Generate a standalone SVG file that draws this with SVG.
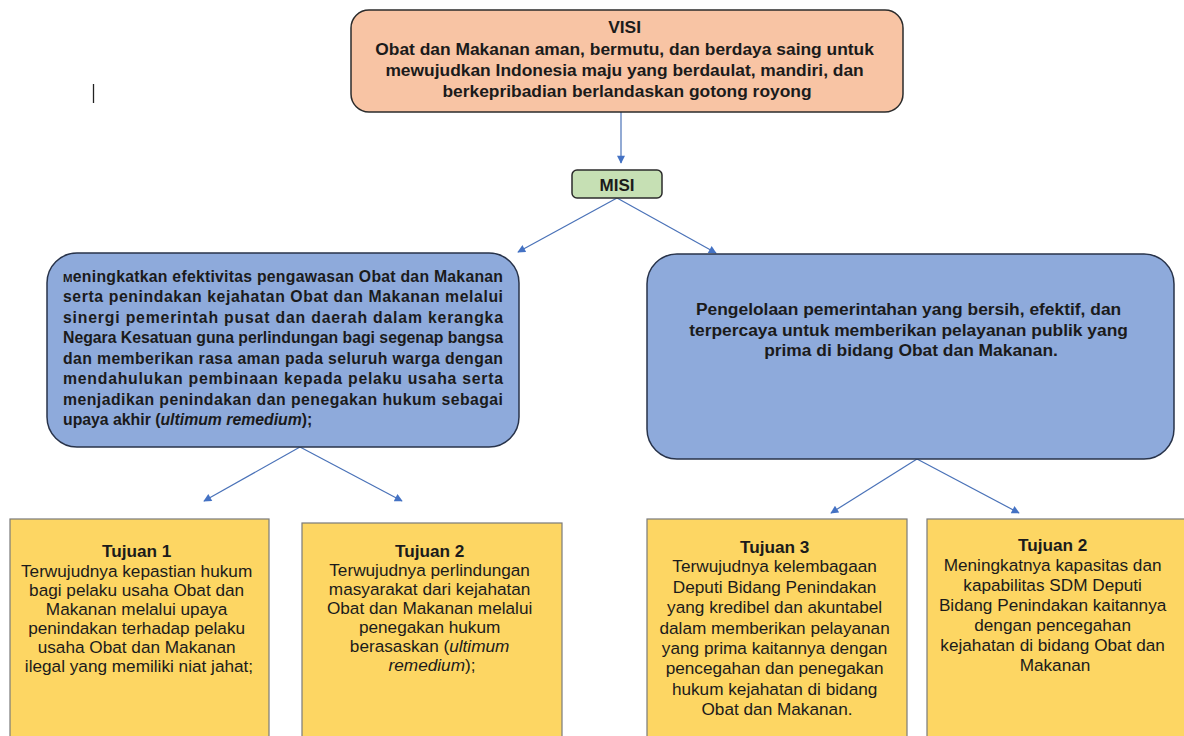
<svg xmlns="http://www.w3.org/2000/svg" width="1184" height="736" viewBox="0 0 1184 736">
<defs>
<marker id="ah" viewBox="0 0 10 10" refX="9" refY="5" markerWidth="9" markerHeight="8" markerUnits="userSpaceOnUse" orient="auto">
<path d="M0,0 L10,5 L0,10 z" fill="#4472c4"/>
</marker>
</defs>
<style>
.conn{stroke:#4a72b8;stroke-width:1.2;fill:none;marker-end:url(#ah)}
.b{font-family:"Liberation Sans",Arial,sans-serif;font-weight:bold;fill:#1b1b1b}
.n{font-family:"Liberation Sans",Arial,sans-serif;fill:#1b1b1b}
.visi{fill:#f8c4a4;stroke:#2b2b2b;stroke-width:1.5}
.misi{fill:#c6e0b4;stroke:#2b2b2b;stroke-width:1.5}
.blue{fill:#8eaadb;stroke:#28334a;stroke-width:1.5}
.yel{fill:#fdd663;stroke:#7a7a7a;stroke-width:1.2}
</style>
<rect width="1184" height="736" fill="#ffffff"/>
<line x1="93.5" y1="84" x2="93.5" y2="103" stroke="#222" stroke-width="1.3"/>

<g id="connectors">
<line class="conn" x1="621" y1="112" x2="621" y2="163"/>
<line class="conn" x1="617" y1="198" x2="518" y2="252"/>
<line class="conn" x1="617" y1="198" x2="716" y2="253"/>
<line class="conn" x1="300" y1="447" x2="204" y2="501"/>
<line class="conn" x1="300" y1="447" x2="402" y2="501"/>
<line class="conn" x1="917" y1="459" x2="831" y2="513"/>
<line class="conn" x1="917" y1="459" x2="1019" y2="513"/>
</g>

<g id="visi">
<rect class="visi" x="351" y="10" width="552" height="102" rx="18"/>
<text class="b" font-size="17.4" text-anchor="middle">
<tspan x="627" y="33">VISI</tspan>
<tspan x="627" y="54.5">Obat dan Makanan aman, bermutu, dan berdaya saing untuk</tspan>
<tspan x="627" y="76">mewujudkan Indonesia maju yang berdaulat, mandiri, dan</tspan>
<tspan x="627" y="97">berkepribadian berlandaskan gotong royong</tspan>
</text>
</g>

<g id="misi">
<rect class="misi" x="572" y="170" width="90" height="28" rx="5"/>
<text class="b" font-size="17" text-anchor="middle" x="617" y="190.5">MISI</text>
</g>

<g id="misi1">
<rect class="blue" x="47" y="253" width="472" height="194" rx="30"/>
<g class="b" font-size="15.8">
<text x="63" y="281.5" textLength="440" lengthAdjust="spacing"><tspan font-size="11.5">M</tspan>eningkatkan efektivitas pengawasan Obat dan Makanan</text>
<text x="63" y="302" textLength="440" lengthAdjust="spacing">serta penindakan kejahatan Obat dan Makanan melalui</text>
<text x="63" y="322.5" textLength="440" lengthAdjust="spacing">sinergi pemerintah pusat dan daerah dalam kerangka</text>
<text x="63" y="343" textLength="440" lengthAdjust="spacing">Negara Kesatuan guna perlindungan bagi segenap bangsa</text>
<text x="63" y="363.5" textLength="440" lengthAdjust="spacing">dan memberikan rasa aman pada seluruh warga dengan</text>
<text x="63" y="384" textLength="440" lengthAdjust="spacing">mendahulukan pembinaan kepada pelaku usaha serta</text>
<text x="63" y="404.5" textLength="440" lengthAdjust="spacing">menjadikan penindakan dan penegakan hukum sebagai</text>
<text x="63" y="425">upaya akhir (<tspan font-style="italic">ultimum remedium</tspan>);</text>
</g>
</g>

<g id="misi2">
<rect class="blue" x="647" y="254" width="527" height="205" rx="30"/>
<text class="b" font-size="17.4" text-anchor="middle">
<tspan x="911" y="315">Pengelolaan pemerintahan yang bersih, efektif, dan</tspan>
<tspan x="911" y="335.5">terpercaya untuk memberikan pelayanan publik yang</tspan>
<tspan x="911" y="356">prima di bidang Obat dan Makanan.</tspan>
</text>
</g>

<g id="tujuan1">
<rect class="yel" x="10" y="519" width="259" height="230"/>
<text class="n" font-size="17.2" text-anchor="middle">
<tspan class="b" x="139" y="557">Tujuan 1</tspan>
<tspan x="139" y="576.5">Terwujudnya kepastian hukum</tspan>
<tspan x="139" y="595.5">bagi pelaku usaha Obat dan</tspan>
<tspan x="139" y="614.5">Makanan melalui upaya</tspan>
<tspan x="139" y="633.5">penindakan terhadap pelaku</tspan>
<tspan x="139" y="652.5">usaha Obat dan Makanan</tspan>
<tspan x="139" y="671.5">ilegal yang memiliki niat jahat;</tspan>
</text>
</g>

<g id="tujuan2a">
<rect class="yel" x="302" y="523" width="260" height="230"/>
<text class="n" font-size="17.2" text-anchor="middle">
<tspan class="b" x="432" y="557">Tujuan 2</tspan>
<tspan x="432" y="576">Terwujudnya perlindungan</tspan>
<tspan x="432" y="595">masyarakat dari kejahatan</tspan>
<tspan x="432" y="614">Obat dan Makanan melalui</tspan>
<tspan x="432" y="633">penegakan hukum</tspan>
<tspan x="432" y="652">berasaskan (<tspan font-style="italic">ultimum</tspan></tspan>
<tspan x="432" y="671"><tspan font-style="italic">remedium</tspan>);</tspan>
</text>
</g>

<g id="tujuan3">
<rect class="yel" x="647" y="519" width="260" height="230"/>
<text class="n" font-size="17.2" text-anchor="middle">
<tspan class="b" x="777" y="553">Tujuan 3</tspan>
<tspan x="777" y="572">Terwujudnya kelembagaan</tspan>
<tspan x="777" y="592.5">Deputi Bidang Penindakan</tspan>
<tspan x="777" y="613">yang kredibel dan akuntabel</tspan>
<tspan x="777" y="633.5">dalam memberikan pelayanan</tspan>
<tspan x="777" y="654">yang prima kaitannya dengan</tspan>
<tspan x="777" y="674">pencegahan dan penegakan</tspan>
<tspan x="777" y="694.5">hukum kejahatan di bidang</tspan>
<tspan x="777" y="715">Obat dan Makanan.</tspan>
</text>
</g>

<g id="tujuan2b">
<rect class="yel" x="927" y="519" width="270" height="230"/>
<text class="n" font-size="17.2" text-anchor="middle">
<tspan class="b" x="1055" y="551">Tujuan 2</tspan>
<tspan x="1055" y="571">Meningkatnya kapasitas dan</tspan>
<tspan x="1055" y="591">kapabilitas SDM Deputi</tspan>
<tspan x="1055" y="611">Bidang Penindakan kaitannya</tspan>
<tspan x="1055" y="631">dengan pencegahan</tspan>
<tspan x="1055" y="651">kejahatan di bidang Obat dan</tspan>
<tspan x="1055" y="671">Makanan</tspan>
</text>
</g>
</svg>
